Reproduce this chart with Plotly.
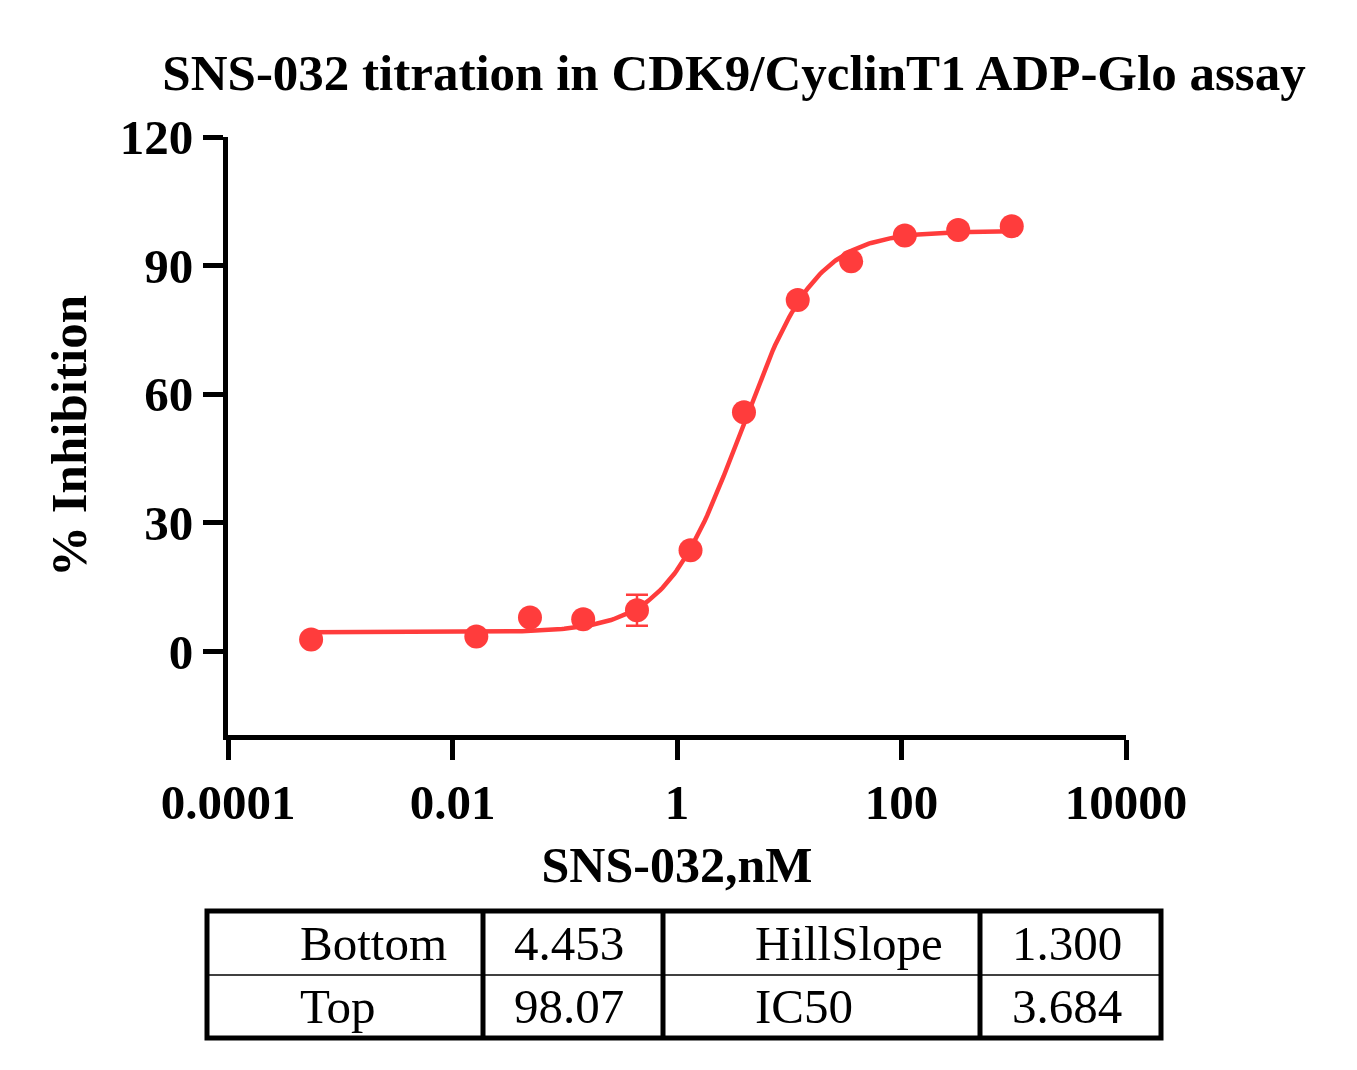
import numpy as np
import plotly.graph_objects as go

# measured points
conc_nM = [0.00055, 0.0163, 0.049, 0.146, 0.44, 1.32, 3.95, 11.9, 35.6, 107, 320, 960]
inhibition = [2.8, 3.5, 7.9, 7.5, 9.6, 23.6, 55.8, 82.0, 91.0, 97.0, 98.3, 99.2]
err = [0, 0, 0, 0, 3.6, 0, 0, 0, 0, 0, 0, 0]

# fit parameters shown in the table
bottom, top, ic50, hill = 4.453, 98.07, 3.684, 1.300
param_names = ['Bottom', 'Top', 'HillSlope', 'IC50']
param_text = ['4.453', '98.07', '1.300', '3.684']

red = 'rgb(255,60,60)'
W, H = 1357, 1070
OFF = 8  # page body margin
L, R, T, B = 228, 1126, 137, 735

xs = np.logspace(np.log10(conc_nM[0]), np.log10(conc_nM[-1]), 300)
ys = bottom + (top - bottom) / (1 + (ic50 / xs) ** hill)

fig = go.Figure()
fig.add_trace(go.Scatter(x=xs, y=ys, mode='lines', line=dict(color=red, width=4.5), hoverinfo='skip'))
fig.add_trace(go.Scatter(x=conc_nM, y=inhibition, mode='markers',
                         marker=dict(color=red, size=24),
                         error_y=dict(type='data', array=err, color=red, thickness=2.5, width=11)))

font = 'Liberation Serif'
fig.update_layout(
    width=W, height=H, showlegend=False, plot_bgcolor='white', paper_bgcolor='white',
    margin=dict(l=L - OFF, r=W - R + OFF, t=T - OFF, b=H - B + OFF),
    title=dict(text='<b>SNS-032 titration in CDK9/CyclinT1 ADP-Glo assay</b>', x=(734 - OFF) / W, xanchor='center',
               y=1 - (72 - OFF) / H, yanchor='middle', font=dict(family=font, size=51, color='black')),
    font=dict(family=font, color='black'),
)
fig.update_xaxes(type='log', range=[-4, 4], tickvals=[1e-4, 1e-2, 1, 100, 1e4],
                 ticktext=['<b>0.0001</b>', '<b>0.01</b>', '<b>1</b>', '<b>100</b>', '<b>10000</b>'],
                 showline=True, linecolor='black', linewidth=5, ticks='outside', ticklen=20, tickwidth=5,
                 tickcolor='black', showgrid=False, zeroline=False, tickfont=dict(size=49),
                 title=dict(text='<b>SNS-032,nM</b>', font=dict(size=50), standoff=20))
fig.update_yaxes(range=[-19.5, 120], tickvals=[0, 30, 60, 90, 120],
                 ticktext=['<b>%d</b>' % v for v in [0, 30, 60, 90, 120]],
                 showline=True, linecolor='black', linewidth=5, ticks='outside', ticklen=20, tickwidth=5,
                 tickcolor='black', showgrid=False, zeroline=False, tickfont=dict(size=49),
                 title=dict(text='<b>% Inhibition</b>', font=dict(size=51), standoff=18))

def px(x):
    return (x - L) / (R - L)

def py(y):
    return (B - y) / (B - T)

x0, x1, yt, ym, yb = 207, 1161, 911, 975, 1038
fig.add_shape(type='rect', xref='paper', yref='paper', x0=px(x0), x1=px(x1), y0=py(yb), y1=py(yt),
              line=dict(color='black', width=5))
fig.add_shape(type='line', xref='paper', yref='paper', x0=px(x0), x1=px(x1), y0=py(ym), y1=py(ym),
              line=dict(color='black', width=1.5))
for cx in [483, 663, 980]:
    fig.add_shape(type='line', xref='paper', yref='paper', x0=px(cx), x1=px(cx), y0=py(yb), y1=py(yt),
                  line=dict(color='black', width=5))

cells = [(param_names[0], 298, 943), (param_text[0], 512, 943), (param_names[2], 753, 943), (param_text[2], 1010, 943),
         (param_names[1], 298, 1006), (param_text[1], 512, 1006), (param_names[3], 753, 1006), (param_text[3], 1010, 1006)]
for txt, cx, cy in cells:
    fig.add_annotation(text=txt, xref='paper', yref='paper', x=px(cx), y=py(cy), xanchor='left', yanchor='middle',
                       showarrow=False, font=dict(family=font, size=49, color='black'))

fig.write_html('out.html')
